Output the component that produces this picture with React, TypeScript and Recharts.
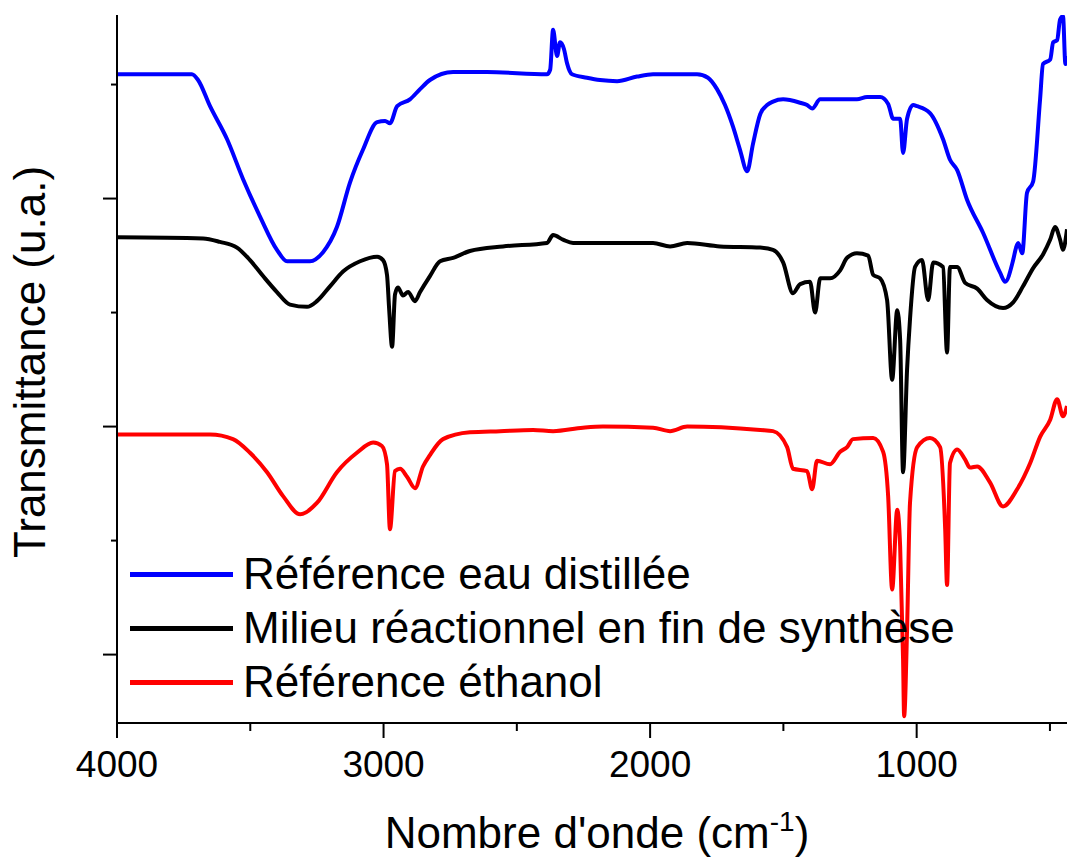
import { LineChart, Line, XAxis, YAxis, Legend } from 'recharts'

const FONT = '"Liberation Sans", Arial, sans-serif'

// Référence eau distillée (nombre d'onde cm-1 / transmittance u.a.)
const waterWn = [4000, 3719, 3696, 3651, 3587, 3527, 3463, 3400, 3362, 3276, 3227, 3175, 3126, 3077, 3024, 2994, 2976, 2949, 2901, 2863, 2826, 2739, 2612, 2387, 2375, 2364, 2349, 2338, 2323, 2312, 2293, 2237, 2188, 2124, 2049, 1989, 1824, 1783, 1749, 1719, 1689, 1663, 1636, 1614, 1587, 1561, 1539, 1501, 1437, 1411, 1392, 1362, 1287, 1224, 1186, 1137, 1107, 1088, 1062, 1051, 1036, 1013, 998, 950, 901, 875, 848, 811, 751, 687, 668, 638, 627, 619, 604, 586, 563, 537, 526, 499, 488, 473, 462, 451, 442, 436]
const waterT = [6.09, 6.09, 6.04, 5.81, 5.52, 5.17, 4.84, 4.55, 4.45, 4.45, 4.53, 4.75, 5.14, 5.43, 5.67, 5.68, 5.66, 5.81, 5.87, 5.96, 6.04, 6.11, 6.11, 6.09, 6.13, 6.48, 6.25, 6.37, 6.31, 6.19, 6.09, 6.06, 6.04, 6.03, 6.07, 6.09, 6.09, 6.06, 5.96, 5.82, 5.63, 5.43, 5.24, 5.48, 5.74, 5.82, 5.85, 5.87, 5.84, 5.82, 5.79, 5.87, 5.87, 5.87, 5.89, 5.89, 5.83, 5.7, 5.7, 5.4, 5.7, 5.82, 5.81, 5.75, 5.52, 5.34, 5.25, 4.99, 4.7, 4.35, 4.27, 4.46, 4.57, 4.61, 4.52, 5.05, 5.15, 5.87, 6.18, 6.22, 6.37, 6.39, 6.57, 6.6, 6.18, 6.25]

// Milieu réactionnel en fin de synthèse
const mixWn = [4000, 3677, 3614, 3550, 3501, 3452, 3400, 3351, 3287, 3250, 3201, 3152, 3088, 3024, 3002, 2987, 2979, 2968, 2957, 2946, 2927, 2908, 2882, 2863, 2826, 2788, 2739, 2676, 2552, 2387, 2364, 2327, 2289, 2177, 1989, 1925, 1861, 1738, 1587, 1539, 1501, 1464, 1437, 1400, 1381, 1362, 1325, 1287, 1261, 1224, 1182, 1163, 1137, 1111, 1092, 1073, 1062, 1051, 1036, 1025, 1006, 980, 957, 938, 901, 886, 875, 848, 818, 773, 736, 676, 638, 601, 563, 526, 499, 481, 462, 451, 436]
const mixT = [4.66, 4.65, 4.62, 4.57, 4.46, 4.32, 4.18, 4.07, 4.05, 4.1, 4.23, 4.36, 4.45, 4.49, 4.46, 4.33, 4.03, 3.7, 4.16, 4.22, 4.15, 4.18, 4.1, 4.18, 4.32, 4.45, 4.48, 4.54, 4.58, 4.61, 4.68, 4.64, 4.61, 4.61, 4.61, 4.58, 4.61, 4.58, 4.57, 4.55, 4.44, 4.17, 4.25, 4.27, 4.0, 4.3, 4.3, 4.37, 4.48, 4.52, 4.5, 4.33, 4.3, 4.11, 3.41, 4.02, 3.76, 2.6, 3.5, 3.94, 4.4, 4.46, 4.11, 4.44, 4.4, 3.65, 4.4, 4.4, 4.26, 4.21, 4.11, 4.04, 4.09, 4.23, 4.39, 4.51, 4.64, 4.75, 4.64, 4.55, 4.73]

// Référence éthanol
const ethWn = [4000, 3651, 3565, 3501, 3437, 3377, 3313, 3250, 3175, 3100, 3039, 3006, 2987, 2976, 2957, 2938, 2912, 2882, 2852, 2826, 2777, 2676, 2563, 2439, 2364, 2252, 2177, 1989, 1925, 1861, 1587, 1539, 1486, 1464, 1411, 1392, 1374, 1325, 1287, 1261, 1239, 1163, 1126, 1107, 1092, 1073, 1062, 1051, 1047, 1036, 1025, 998, 950, 912, 893, 886, 875, 848, 818, 800, 773, 725, 676, 623, 574, 537, 499, 473, 451, 436]
const ethT = [2.93, 2.93, 2.89, 2.77, 2.6, 2.39, 2.23, 2.33, 2.6, 2.77, 2.86, 2.83, 2.67, 2.1, 2.61, 2.63, 2.56, 2.46, 2.65, 2.75, 2.89, 2.95, 2.96, 2.97, 2.96, 2.99, 3.0, 2.99, 2.96, 3.0, 2.97, 2.96, 2.82, 2.63, 2.61, 2.45, 2.7, 2.67, 2.78, 2.82, 2.89, 2.9, 2.78, 2.39, 1.57, 2.27, 1.95, 0.96, 0.46, 1.22, 2.33, 2.82, 2.9, 2.82, 2.1, 1.61, 2.68, 2.8, 2.71, 2.64, 2.65, 2.51, 2.3, 2.45, 2.68, 2.91, 3.06, 3.24, 3.09, 3.18]

const seriesNames = ['Référence eau distillée', 'Milieu réactionnel en fin de synthèse', 'Référence éthanol']
const seriesColors = ['#0000ff', '#000000', '#ff0000']

const xTicks = [4000, 3500, 3000, 2500, 2000, 1500, 1000, 500]
const yTicks = [1, 2, 3, 4, 5, 6]

const zip = (wn: number[], t: number[]) => wn.map((w, i) => ({ wn: w, t: t[i] }))

const series = [
  { name: seriesNames[0], color: seriesColors[0], data: zip(waterWn, waterT) },
  { name: seriesNames[1], color: seriesColors[1], data: zip(mixWn, mixT) },
  { name: seriesNames[2], color: seriesColors[2], data: zip(ethWn, ethT) },
]

function XTick(props: any) {
  const { x = 0, y = 0, payload } = props
  const major = payload.value % 1000 === 0
  return (
    <g>
      <line x1={x} x2={x} y1={y} y2={y + (major ? 15 : 8)} stroke="#000" strokeWidth={2} />
      {major && (
        <text x={x} y={y + 54} textAnchor="middle" fontSize={37} fontFamily={FONT} fill="#000">
          {payload.value}
        </text>
      )}
    </g>
  )
}

function YTick(props: any) {
  const { x = 0, y = 0, payload } = props
  const major = payload.value % 2 === 1
  return <line x1={x} x2={x - (major ? 14 : 6)} y1={y} y2={y} stroke="#000" strokeWidth={2} />
}

const renderXLabel = () => (
  <text x={597} y={848} textAnchor="middle" fontSize={44} fontFamily={FONT} fill="#000">
    Nombre d'onde (cm
    <tspan fontSize={28} dy={-17}>-1</tspan>
    <tspan dy={17}>)</tspan>
  </text>
)

const renderYLabel = () => (
  <text
    x={45}
    y={362}
    transform="rotate(-90 45 362)"
    textAnchor="middle"
    fontSize={44}
    fontFamily={FONT}
    fill="#000"
  >
    Transmittance (u.a.)
  </text>
)

function LegendBox() {
  return (
    <div style={{ fontFamily: FONT }}>
      {series.map((s) => (
        <div key={s.name} style={{ display: 'flex', alignItems: 'center', height: 54 }}>
          <div style={{ width: 103, height: 5, background: s.color }} />
          <span style={{ marginLeft: 10, fontSize: 44, lineHeight: '54px', color: '#000', whiteSpace: 'nowrap' }}>
            {s.name}
          </span>
        </div>
      ))}
    </div>
  )
}

export default function App() {
  return (
    <div style={{ position: 'absolute', left: 0, top: 0, width: 1067, height: 857, background: '#fff' }}>
      <LineChart width={1067} height={857} margin={{ top: 15, right: 0, bottom: 0, left: 0 }}>
        <XAxis
          dataKey="wn"
          type="number"
          domain={[436, 4000]}
          reversed
          allowDataOverflow
          ticks={xTicks}
          interval={0}
          height={134}
          tickSize={0}
          tickMargin={0}
          tickLine={false}
          tick={<XTick />}
          axisLine={{ stroke: '#000', strokeWidth: 2 }}
          label={renderXLabel}
        />
        <YAxis
          dataKey="t"
          type="number"
          domain={[0.4, 6.61]}
          allowDataOverflow
          ticks={yTicks}
          interval={0}
          width={117}
          tickSize={0}
          tickMargin={0}
          tickLine={false}
          tick={<YTick />}
          axisLine={{ stroke: '#000', strokeWidth: 2 }}
          label={renderYLabel}
        />
        <Legend
          layout="vertical"
          align="center"
          verticalAlign="middle"
          content={() => <LegendBox />}
          wrapperStyle={{ left: 130, top: 547, width: 'auto' }}
        />
        {series.map((s) => (
          <Line
            key={s.name}
            data={s.data}
            dataKey="t"
            name={s.name}
            type="monotoneX"
            stroke={s.color}
            strokeWidth={4}
            strokeLinejoin="round"
            dot={false}
            activeDot={false}
            isAnimationActive={false}
          />
        ))}
      </LineChart>
    </div>
  )
}
